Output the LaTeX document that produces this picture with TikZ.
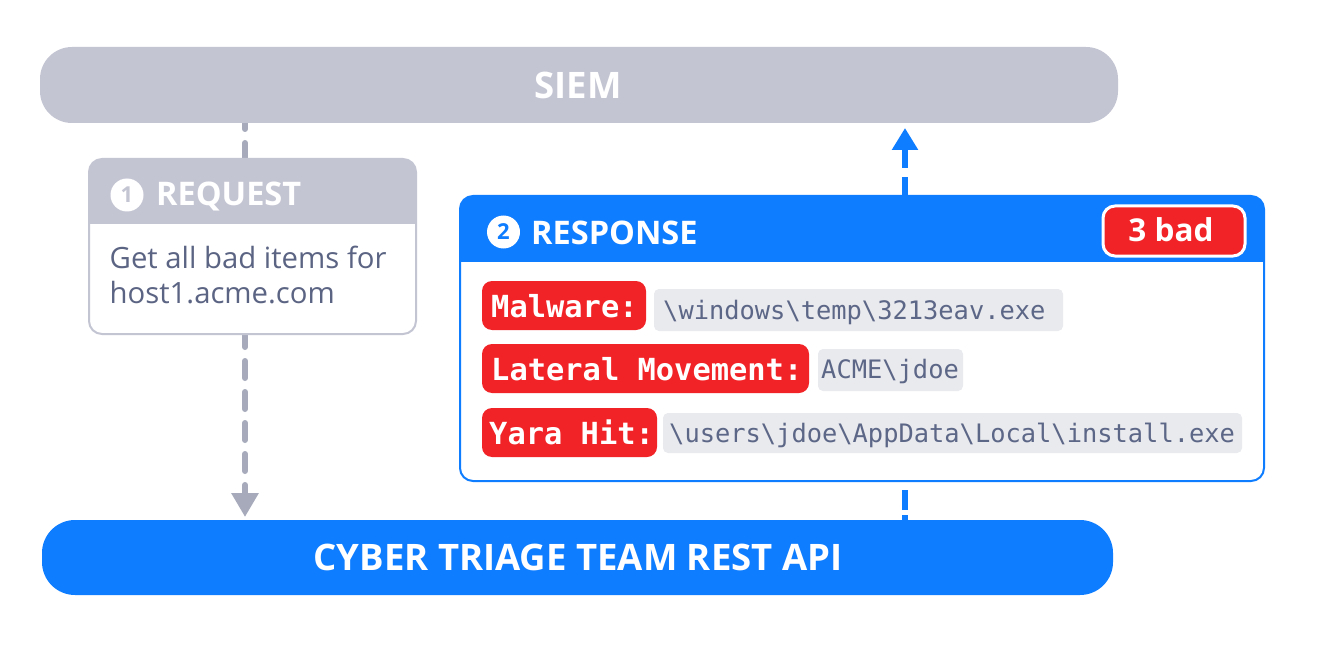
\documentclass[tikz,border=0pt]{standalone}
\usepackage{fontspec}
\setmainfont{Open Sans}
\newfontfamily\codefont{DejaVu Sans Mono}
\usetikzlibrary{arrows.meta}
\pgfdeclarelayer{bg}
\pgfsetlayers{bg,main}
\definecolor{siemgray}{HTML}{C4C5D3}
\definecolor{arrowgray}{HTML}{A6AABB}
\definecolor{ctblue}{HTML}{0F7DFF}
\definecolor{ctred}{HTML}{F22326}
\definecolor{codebg}{HTML}{E9EAEE}
\definecolor{codetext}{HTML}{5C6686}
\definecolor{bodytext}{HTML}{5B6483}
\begin{document}
\begin{tikzpicture}[x=1pt,y=-1pt,
  bar/.style={rectangle, rounded corners=32pt, inner sep=0pt, outer sep=0pt},
  frame/.style={rectangle, rounded corners=13pt, line width=2pt, fill=white, inner sep=0pt, outer sep=0pt, anchor=north west},
  bigtxt/.style={inner sep=0pt, text=white, font=\bfseries\fontsize{36.5}{42}\selectfont},
  headtxt/.style={inner sep=0pt, text=white, anchor=base west, font=\bfseries\fontsize{32.5}{38}\selectfont},
  numcirc/.style={circle, fill=white, minimum size=33pt, inner sep=0pt, font=\bfseries\fontsize{22}{26}\selectfont},
  bodytxt/.style={inner sep=0pt, text=bodytext, anchor=base west, font=\fontsize{29.3}{35}\selectfont},
  redtag/.style={rectangle, fill=ctred, rounded corners=10pt, inner sep=0pt, outer sep=0pt, anchor=north west},
  codebox/.style={rectangle, fill=codebg, rounded corners=5pt, inner sep=0pt, outer sep=0pt, anchor=north west},
  redtxt/.style={inner sep=0pt, text=white, anchor=base west, font=\codefont\bfseries\fontsize{30.4}{36}\selectfont},
  codetxt/.style={inner sep=0pt, text=codetext, anchor=base west, font=\codefont\fontsize{25.4}{30}\selectfont},
  garrow/.style={draw=arrowgray, line width=6pt, line cap=round, dash pattern=on 17pt off 14pt},
  barrow/.style={draw=ctblue, line width=5.5pt, dash pattern=on 19pt off 9pt}
]
\begin{pgfonlayer}{bg}
\fill[white] (0,0) rectangle (1329,652);
\end{pgfonlayer}
\useasboundingbox (0,0) rectangle (1329,652);

% bars
\node[bar, fill=siemgray, minimum width=1078pt, minimum height=76pt] (siem) at (579,85) {};
\node[bigtxt, anchor=base] (siemtxt) at (578,99) {SIEM};
\node[bar, rounded corners=33pt, fill=ctblue, minimum width=1071pt, minimum height=75pt] (api) at (577.5,557.5) {};
\node[bigtxt, anchor=base] (apitxt) at (578,570) {CYBER TRIAGE TEAM REST API};

% request box
\node[frame, draw=siemgray, minimum width=327pt, minimum height=175pt] (req) at (89,159) {};
\begin{scope}
\clip[rounded corners=13pt] (req.south west) rectangle (req.north east);
\fill[siemgray] ([yshift=5pt]req.north west) rectangle (req.east |- 0,224);
\end{scope}
\node[numcirc, text=siemgray] (c1) at (127,195) {1};
\node[headtxt] (reqhead) at (156,206) {REQUEST};
\node[bodytxt] (reqline1) at (109.5,268) {Get all bad items for};
\node[bodytxt] (reqline2) at (109.5,303) {host1.acme.com};

% response box
\node[frame, draw=ctblue, minimum width=804pt, minimum height=285pt] (resp) at (460,196) {};
\begin{scope}
\clip[rounded corners=13pt] (resp.south west) rectangle (resp.north east);
\fill[ctblue] ([yshift=5pt]resp.north west) rectangle (resp.east |- 0,262);
\end{scope}
\node[numcirc, text=ctblue] (c2) at (503.5,232) {2};
\node[headtxt] (resphead) at (531,244) {RESPONSE};
\node[rectangle, fill=ctred, draw=white, line width=3pt, rounded corners=12pt, minimum width=142pt, minimum height=50pt, inner sep=0pt] (bad) at (1174,231) {};
\node[headtxt, anchor=base, font=\bfseries\fontsize{31.5}{38}\selectfont] (badtxt) at (1171,242) {3 bad};

% rows
\node[redtag, minimum width=164pt, minimum height=49pt] (r1) at (482,281) {};
\node[codebox, minimum width=409pt, minimum height=42pt] (g1) at (654,289) {};
\node[redtxt] (r1t) at (491,317) {Malware:};
\node[codetxt] (g1t) at (663,319) {\textbackslash windows\textbackslash temp\textbackslash 3213eav.exe};

\node[redtag, minimum width=327pt, minimum height=49pt] (r2) at (482,344) {};
\node[codebox, minimum width=145pt, minimum height=42pt] (g2) at (818,349) {};
\node[redtxt] (r2t) at (491,380) {Lateral Movement:};
\node[codetxt] (g2t) at (821,378) {ACME\textbackslash jdoe};

\node[redtag, minimum width=175pt, minimum height=49pt] (r3) at (482,408) {};
\node[codebox, minimum width=579pt, minimum height=40pt] (g3) at (663,413) {};
\node[redtxt] (r3t) at (489,444) {Yara Hit:};
\node[codetxt] (g3t) at (669,442) {\textbackslash users\textbackslash jdoe\textbackslash AppData\textbackslash Local\textbackslash install.exe};

% connectors
\coordinate (xg) at (245,0);
\coordinate (xb) at (905,0);
\begin{pgfonlayer}{bg}
\draw[garrow, dash phase=11pt] (siem.south -| xg) -- (req.north -| xg);
\draw[garrow, dash phase=4pt, -{Triangle[length=24pt,width=26pt]}, shorten >=3pt] (req.south -| xg) -- (api.north -| xg);
\draw[barrow, -{Triangle[length=22pt,width=25pt]}, shorten >=5pt] (resp.north -| xb) -- (siem.south -| xb);
\draw[barrow, dash pattern=on 5pt off 5pt on 20pt off 30pt] (api.north -| xb) -- (resp.south -| xb);
\end{pgfonlayer}
\end{tikzpicture}
\end{document}
